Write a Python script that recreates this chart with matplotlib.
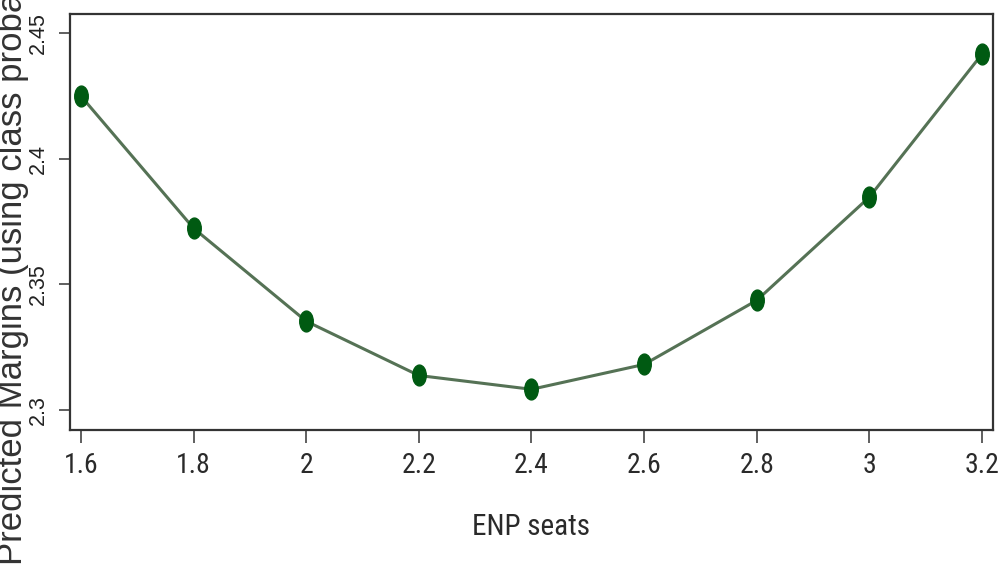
"""Predicted margins vs ENP seats (Stata-style marginsplot)."""

import matplotlib

matplotlib.use("Agg")
import matplotlib.pyplot as plt
from matplotlib.markers import MarkerStyle
from matplotlib.transforms import Affine2D

enp_seats = [1.6, 1.8, 2.0, 2.2, 2.4, 2.6, 2.8, 3.0, 3.2]
margins = [2.4249, 2.3723, 2.3353, 2.3137, 2.3082, 2.3181, 2.3436, 2.3847, 2.4416]
x_ticks = [1.6, 1.8, 2.0, 2.2, 2.4, 2.6, 2.8, 3.0, 3.2]
x_tick_labels = ["1.6", "1.8", "2", "2.2", "2.4", "2.6", "2.8", "3", "3.2"]
y_ticks = [2.3, 2.35, 2.4, 2.45]
y_tick_labels = ["2.3", "2.35", "2.4", "2.45"]

NARROW = ["Liberation Sans Narrow", "Roboto Condensed", "Arimo", "Liberation Sans"]

W, H = 998, 569
fig = plt.figure(figsize=(W / 100, H / 100), dpi=100)
ax = fig.add_axes([70 / W, (H - 430) / H, 923 / W, 416 / H])

oval = MarkerStyle("o", transform=Affine2D().scale(0.65, 1.0))
ax.plot(enp_seats, margins, color="#557255", lw=2.2, zorder=2)
ax.plot(enp_seats, margins, ls="none", marker=oval, ms=15,
        color="#005a12", mec="#005a12", zorder=3)

ax.set_xlim(1.5805, 3.2196)
ax.set_ylim(2.2920, 2.4576)

ax.set_xticks(x_ticks)
ax.set_xticklabels(x_tick_labels, family=NARROW, fontsize=20, color="#2a2a2a")
ax.set_yticks(y_ticks)
ax.set_yticklabels(y_tick_labels, family="Liberation Sans", fontsize=15.5,
                   rotation=90, va="center", color="#222222")

ax.tick_params(axis="x", direction="out", length=9, width=1.2, pad=7, color="#444444")
ax.tick_params(axis="y", direction="out", length=8, width=1.2, pad=7, color="#444444")
for side in ax.spines.values():
    side.set_linewidth(1.6)
    side.set_color("#333333")

ax.set_xlabel("ENP seats", family=NARROW, fontsize=21, color="#2a2a2a", labelpad=24)

fig.text(13 / W, 4 / H, "Predicted Margins (using class probabilities)",
         rotation=90, ha="center", va="bottom", family="Liberation Sans",
         fontsize=25, color="#333333")

fig.savefig("out.png", dpi=100)
